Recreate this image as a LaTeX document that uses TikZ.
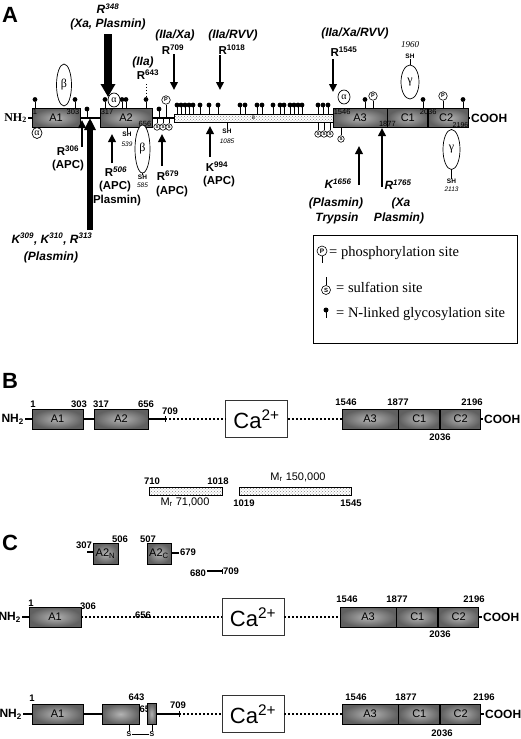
\documentclass[tikz,border=0pt]{standalone}
\usepackage{fontspec}
\setmainfont{Liberation Sans}
\newfontfamily\timesfont{Liberation Serif}
\usetikzlibrary{positioning,patterns,arrows.meta,shapes.geometric}
\definecolor{domIn}{RGB}{180,180,180}
\definecolor{domOut}{RGB}{96,96,96}
\definecolor{hatchGray}{RGB}{130,130,130}
\tikzset{
  dombox/.style={draw=black, line width=0.8pt, inner color=domIn, outer color=domOut,
    minimum height=20pt, inner sep=0pt, font=\fontsize{11}{12}\selectfont},
  hatchbox/.style={draw=black, line width=0.8pt, preaction={fill=white},
    pattern=crosshatch dots, pattern color=hatchGray, minimum height=8pt, inner sep=0pt},
  cabox/.style={draw=black!80, line width=0.8pt, fill=white, minimum width=62pt,
    minimum height=37pt, inner sep=0pt, font=\fontsize{22}{24}\selectfont},
  linker/.style={line width=1.5pt},
  dotlink/.style={line width=1.7pt, dash pattern=on 2pt off 2pt},
  sitestem/.style={line width=0.7pt},
  panellbl/.style={anchor=west, inner sep=0pt, font=\fontsize{22}{24}\selectfont\bfseries},
  endlbl/.style={anchor=west, inner sep=1pt, font=\fontsize{12}{13}\selectfont\bfseries},
  nhlbl/.style={anchor=east, inner sep=1pt, font=\fontsize{12}{13}\selectfont\bfseries},
  innum/.style={inner sep=1pt, font=\fontsize{7.5}{8}\selectfont},
  resnum/.style={inner sep=1pt, font=\fontsize{9.5}{10}\selectfont\bfseries},
  cutital/.style={inner sep=0pt, font=\fontsize{12}{13}\selectfont\bfseries\itshape},
  cutbold/.style={inner sep=0pt, font=\fontsize{11.5}{12}\selectfont\bfseries},
  cleave/.style={line width=2.6pt, -{Triangle[width=7.5pt,length=8pt]}},
  midcleave/.style={line width=5.5pt, -{Triangle[width=11pt,length=12pt]}},
  bigcleave/.style={line width=8pt, -{Triangle[width=14pt,length=13pt]}},
  loopell/.style={ellipse, draw, line width=0.7pt, fill=white, inner sep=0pt,
    font=\timesfont\fontsize{12}{12}\selectfont},
  psite/.style={circle, draw, line width=0.6pt, fill=white, inner sep=0pt,
    minimum size=8.5pt, font=\fontsize{5.5}{6}\selectfont\bfseries},
  ssite/.style={circle, draw, line width=0.6pt, fill=white, inner sep=0pt,
    minimum size=6.5pt, font=\fontsize{4.5}{5}\selectfont\bfseries},
  shlbl/.style={inner sep=0pt, font=\fontsize{6.5}{7}\selectfont\bfseries},
  shnum/.style={inner sep=0pt, font=\fontsize{6.5}{7}\selectfont\itshape},
  legtxt/.style={anchor=west, inner sep=0pt, font=\timesfont\fontsize{14.5}{15}\selectfont},
  mrlbl/.style={inner sep=0pt, font=\fontsize{11}{12}\selectfont}
}
\begin{document}
\begin{tikzpicture}[x=1pt, y=-1pt]
% pixel grid: x right, y down, 520 x 739
\path[use as bounding box, fill=white] (0,0) rectangle (520,739);
\def\glyc#1#2{\draw[sitestem] (#1,#2) -- ++(0,-7); \fill (#1,#2) ++(0,-9) circle[radius=2.4pt];}

% ================= A =================
\node[panellbl] (pA) at (2,15) {A};
\node[nhlbl, font=\timesfont\fontsize{12}{13}\selectfont\bfseries] (nhA) at (28,118) {NH\textsubscript{2}};
\node[dombox, minimum width=48pt, minimum height=19pt] (a1) at (56,118) {A1};
\node[dombox, minimum width=52pt, minimum height=19pt] (a2) at (126,118) {A2};
\node[hatchbox, minimum width=159pt] (bd) at (253.5,118) {\fontsize{5}{5}\selectfont B};
\node[dombox, minimum width=54pt, minimum height=19pt] (a3) at (360,118) {A3};
\node[dombox, minimum width=40pt, minimum height=19pt, right=0pt of a3] (c1) {C1};
\node[dombox, minimum width=40pt, minimum height=19pt, right=0pt of c1] (c2) {C2\hspace*{5pt}};
\node[endlbl] (coA) at (470,118) {COOH};
\draw[linker] (nhA) -- (a1);
\draw[linker] (a1) -- (a2);
\draw[linker] (a2) -- (bd);
\draw[linker] (c2) -- (coA);
% residue numbers inside the domains
\node[innum, anchor=north west] (i1) at (a1.north west) {1};
\node[innum, anchor=north east] (i303) at (a1.north east) {303};
\node[innum, anchor=north west] (i317) at (a2.north west) {317};
\node[innum, anchor=south east] (i656) at (a2.south east) {656};
\node[innum, anchor=north west] (i1546) at (a3.north west) {1546};
\node[innum, anchor=south] (i1877) at (a3.south east) {1877};
\node[innum, anchor=north] (i2036) at (c1.north east) {2036};
\node[innum, anchor=south east, inner sep=0.5pt, font=\fontsize{7}{7}\selectfont] (i2196) at (c2.south east) {2196};

% glycosylation sites
\foreach \gx in {35,75,105,122,126,146,365,423,463} \glyc{\gx}{108.5};
\foreach \gx in {87,159} \glyc{\gx}{118};
\foreach \gx in {177,181,185,189,193,200,209,218,240,245,257,262,273,280,284,290,294,298,302,318,323,328}
  \glyc{\gx}{114};

% disulfide loops
\node[loopell, minimum width=15pt, minimum height=42pt] (be1) at (64,85) {β};
\node[loopell, minimum width=10pt, minimum height=11pt, font=\timesfont\fontsize{10}{10}\selectfont] (al1) at (37,133) {α};
\node[loopell, minimum width=12pt, minimum height=14pt, font=\timesfont\fontsize{10}{10}\selectfont] (al2) at (114,100) {α};
\node[loopell, minimum width=15pt, minimum height=48pt] (be2) at (142.5,149) {β};
\node[loopell, minimum width=12pt, minimum height=14pt, font=\timesfont\fontsize{10}{10}\selectfont] (al3) at (344,97) {α};
\node[loopell, minimum width=18pt, minimum height=34pt] (ga1) at (410,82) {γ};
\node[loopell, minimum width=17pt, minimum height=40pt] (ga2) at (451.5,149.5) {γ};

% free SH groups
\node[shlbl] (sh539) at (127,134) {SH};
\node[shnum] (n539) at (127,144) {539};
\draw[sitestem] (a2.south -| sh539) -- (sh539.north);
\node[shlbl] (sh585) at (142.5,177) {SH};
\node[shnum] (n585) at (142.5,185) {585};
\draw[sitestem] (be2.south) -- (sh585.north);
\node[shlbl] (sh1085) at (227,131) {SH};
\node[shnum] (n1085) at (227,141) {1085};
\draw[sitestem] (bd.south -| sh1085) -- (sh1085.north);
\node[shlbl] (sh1960) at (410,56) {SH};
\node[inner sep=0pt, font=\timesfont\itshape\fontsize{9}{9}\selectfont] (n1960) at (410,45) {1960};
\draw[sitestem] (sh1960.south) -- (ga1.north);
\node[shlbl] (sh2113) at (451.5,181) {SH};
\node[shnum] (n2113) at (451.5,189) {2113};
\draw[sitestem] (ga2.south) -- (sh2113.north);

% phosphorylation sites
\node[psite] (pA1) at (166,100) {P};
\draw[sitestem] (pA1.south) -- (pA1.south |- a2.center);
\node[psite] (pA2) at (373,96) {P};
\draw[sitestem] (pA2.south) -- (pA2.south |- a3.north);
\node[psite] (pA3) at (443,96) {P};
\draw[sitestem] (pA3.south) -- (pA3.south |- c2.north);

% sulfation sites
\foreach \i/\sx in {1/157,2/163,3/169} {
  \node[ssite] (sA\i) at (\sx,127) {S};
  \draw[sitestem] (sA\i.north) -- (sA\i.north |- a2.center);
}
\foreach \i/\sx in {4/318,5/324,6/330} {
  \node[ssite] (sA\i) at (\sx,134) {S};
  \draw[sitestem] (sA\i.north) -- (sA\i.north |- bd.south);
}
\node[ssite] (sA7) at (341,139) {S};
\draw[sitestem] (sA7.north) -- (sA7.north |- a3.south);

% cleavage sites, from above
\node[cutital] (l348) at (108,9) {R\textsuperscript{348}};
\node[cutital] (l348b) at (108,24) {(Xa, Plasmin)};
\node[cutital] (l643a) at (143,62) {(IIa)};
\node[cutbold] (l643) at (148,75) {R\textsuperscript{643}};
\node[cutital] (l709a) at (175,35) {(IIa/Xa)};
\node[cutbold] (l709) at (173,50) {R\textsuperscript{709}};
\node[cutital] (l1018a) at (233,35) {(IIa/RVV)};
\node[cutbold] (l1018) at (232,50) {R\textsuperscript{1018}};
\node[cutital] (l1545a) at (355,33) {(IIa/Xa/RVV)};
\node[cutbold] (l1545) at (344,52) {R\textsuperscript{1545}};
\coordinate (t348) at (108,34); \coordinate (h348) at (108,97);
\draw[bigcleave] (t348) -- (h348);
\coordinate (t643) at (146,84); \coordinate (h643) at (146,97);
\draw[dotted, line width=0.9pt] (t643) -- (h643);
\foreach \nm/\cx/\ya/\yb in {709/174/54/90, 1018/220/55/90, 1545/333/59/92} {
  \coordinate (t\nm) at (\cx,\ya); \coordinate (h\nm) at (\cx,\yb);
  \draw[cleave] (t\nm) -- (h\nm);
}

% cleavage sites, from below
\node[cutbold] (l306) at (68,151) {R\textsuperscript{306}};
\node[cutbold] (l306b) at (68,166) {(APC)};
\node[cutital] (l309) at (52,239) {K\textsuperscript{309}, K\textsuperscript{310}, R\textsuperscript{313}};
\node[cutital] (l309b) at (51,257) {(Plasmin)};
\node[cutbold] (l506) at (116,172) {R\textsuperscript{\itshape 506}};
\node[cutbold] (l506b) at (115,187) {(APC)};
\node[cutbold] (l506c) at (117,201) {Plasmin)};
\node[cutbold] (l679) at (168,176) {R\textsuperscript{679}};
\node[cutbold] (l679b) at (172,192) {(APC)};
\node[cutbold] (l994) at (217,167) {K\textsuperscript{994}};
\node[cutbold] (l994b) at (219,182) {(APC)};
\node[cutital] (l1656) at (338,184) {K\textsuperscript{1656}};
\node[cutital] (l1656b) at (336,203) {(Plasmin)};
\node[cutital] (l1656c) at (337,218) {Trypsin};
\node[cutital] (l1765) at (398,185) {R\textsuperscript{1765}};
\node[cutital] (l1765b) at (401,203) {(Xa};
\node[cutital] (l1765c) at (399,218) {Plasmin)};
\coordinate (t309) at (90,230); \coordinate (h309) at (90,118);
\draw[midcleave] (t309) -- (h309);
\foreach \nm/\cx/\ya/\yb in {306/82/147/120, 506/112/163/134, 679/162/166/134,
  994/210/157/126, 1656/359/185/146, 1765/382/187/128} {
  \coordinate (t\nm) at (\cx,\ya); \coordinate (h\nm) at (\cx,\yb);
  \draw[cleave] (t\nm) -- (h\nm);
}

% legend
\node[draw, line width=0.8pt, minimum width=204pt, minimum height=108pt, anchor=north west] (leg) at (313,235) {};
\node[psite, minimum size=10pt, font=\fontsize{6.5}{7}\selectfont\bfseries] (lgP) at (322,251) {P};
\draw[sitestem] (lgP.south) -- ++(0,7);
\node[legtxt] (lgPt) at (329,253) {= phosphorylation site};
\node[ssite, minimum size=9pt, font=\fontsize{6}{6}\selectfont\bfseries] (lgS) at (326,290) {S};
\draw[sitestem] (lgS.north) -- ++(0,-8);
\node[legtxt] (lgSt) at (336,287) {= sulfation site};
\fill (326,310) circle[radius=2.5pt];
\draw[sitestem] (326,310) -- (326,318);
\node[legtxt] (lgGt) at (336,314) {= N-linked glycosylation site};

% ================= B =================
\node[panellbl] (pB) at (2,381) {B};
\node[nhlbl] (nhB) at (25,419) {NH\textsubscript{2}};
\node[dombox, minimum width=51pt] (b1) at (57.5,419) {A1};
\node[dombox, minimum width=54pt] (b2) at (121,419) {A2};
\coordinate (b709) at (165,419);
\node[cabox] (caB) at (256.5,419) {Ca\textsuperscript{2+}};
\node[dombox, minimum width=56pt] (b3) at (370,419) {A3};
\node[dombox, minimum width=41pt, right=0pt of b3] (b4) {C1};
\node[dombox, minimum width=40pt, right=0pt of b4] (b5) {C2};
\node[endlbl] (coB) at (483,419) {COOH};
\draw[linker] (nhB) -- (b1);
\draw[linker] (b1) -- (b2);
\draw[linker] (b2) -- (b709);
\draw[line width=1pt] ([yshift=3pt]b709) -- ([yshift=-3pt]b709);
\draw[dotlink] (b709) -- (caB);
\draw[dotlink] (caB) -- (b3);
\draw[linker] (b5) -- (coB);
\node[resnum] (nb1) at (33,404.5) {1};
\node[resnum] (nb303) at (79,404.5) {303};
\node[resnum] (nb317) at (101,404.5) {317};
\node[resnum] (nb656) at (146,404.5) {656};
\node[resnum] (nb709) at (170,411) {709};
\node[resnum] (nb1546) at (346,402) {1546};
\node[resnum] (nb1877) at (398,402) {1877};
\node[resnum] (nb2196) at (472,402) {2196};
\node[resnum] (nb2036) at (440,437) {2036};

% B domain fragments
\node[hatchbox, minimum width=73pt] (f1) at (185.5,491) {};
\node[hatchbox, minimum width=112pt] (f2) at (295,491) {};
\node[resnum] (nf710) at (152,481) {710};
\node[resnum] (nf1018) at (218,481) {1018};
\node[resnum] (nf1019) at (244,503) {1019};
\node[resnum] (nf1545) at (351,503) {1545};
\node[mrlbl] (mr71) at (185,502) {M\textsubscript{r} 71,000};
\node[mrlbl] (mr150) at (298,477) {M\textsubscript{r} 150,000};

% ================= C =================
\node[panellbl] (pC) at (2,543) {C};
\node[dombox, minimum width=25pt, minimum height=21pt] (cn) at (105.5,553.5) {A2\textsubscript{N}};
\node[dombox, minimum width=24pt, minimum height=21pt] (cc) at (159,553.5) {A2\textsubscript{C}};
\coordinate (c307) at (87,552);
\draw[linker] (c307) -- (cn.west |- c307);
\coordinate (c679) at (179,553);
\draw[linker] (cc.east |- c679) -- (c679);
\node[resnum] (nc307) at (84,545.5) {307};
\node[resnum] (nc506) at (120,539.5) {506};
\node[resnum] (nc507) at (148,539) {507};
\node[resnum] (nc679) at (188,552) {679};
\node[resnum] (nc680) at (198,573) {680};
\coordinate (c709) at (222,571);
\draw[linker] (nc680.east |- c709) -- (c709);
\draw[line width=1pt] ([yshift=2.5pt]c709) -- ([yshift=-2.5pt]c709);
\node[resnum] (nc709) at (231,571) {709};

% heavy chain lost, light chain kept
\node[nhlbl] (nhC1) at (22,617) {NH\textsubscript{2}};
\node[dombox, minimum width=52pt] (d1) at (55,617) {A1};
\node[cabox] (caC1) at (253,617) {Ca\textsuperscript{2+}};
\node[dombox, minimum width=56pt] (d3) at (368,617) {A3};
\node[dombox, minimum width=41pt, right=0pt of d3] (d4) {C1};
\node[dombox, minimum width=40pt, right=0pt of d4] (d5) {C2};
\node[endlbl] (coC1) at (482,617) {COOH};
\draw[linker] (nhC1) -- (d1);
\draw[dotlink] (d1) -- (caC1);
\draw[dotlink] (caC1) -- (d3);
\draw[linker] (d5) -- (coC1);
\node[resnum] (nd1) at (31,603) {1};
\node[resnum] (nd306) at (88,606) {306};
\node[resnum] (nd656) at (143,615) {656};
\node[resnum] (nd1546) at (347,599) {1546};
\node[resnum] (nd1877) at (397,599) {1877};
\node[resnum] (nd2196) at (474,599) {2196};
\node[resnum] (nd2036) at (440,634) {2036};

% A2 cut at 643, held by S--S
\node[nhlbl] (nhC2) at (23,714) {NH\textsubscript{2}};
\node[dombox, minimum width=51pt] (e1) at (57.5,714) {A1};
\node[dombox, minimum width=37pt] (e2) at (120.5,714) {};
\node[resnum, anchor=west] (ne655) at (138.5,709) {655};
\node[dombox, minimum width=9pt, minimum height=21pt] (e3) at (151.5,714) {};
\coordinate (e709) at (179,714);
\node[cabox] (caC2) at (253,714) {Ca\textsuperscript{2+}};
\node[dombox, minimum width=56pt] (e4) at (370,714) {A3};
\node[dombox, minimum width=41pt, right=0pt of e4] (e5) {C1};
\node[dombox, minimum width=40pt, right=0pt of e5] (e6) {C2};
\node[endlbl] (coC2) at (484,714) {COOH};
\draw[linker] (nhC2) -- (e1);
\draw[linker] (e1) -- (e2);
\draw[linker] (e3) -- (e709);
\draw[line width=1pt] ([yshift=3pt]e709) -- ([yshift=-3pt]e709);
\draw[dotlink] (e709) -- (caC2);
\draw[dotlink] (caC2) -- (e4);
\draw[linker] (e6) -- (coC2);
\node[resnum] (ne1) at (32,698) {1};
\node[resnum] (ne643) at (136.5,697.5) {643};
\node[resnum] (ne709) at (178,705) {709};
\node[resnum] (ne1546) at (356,697.5) {1546};
\node[resnum] (ne1877) at (406,697.5) {1877};
\node[resnum] (ne2196) at (484,697.5) {2196};
\node[resnum] (ne2036) at (442,733.5) {2036};
\node[inner sep=0.5pt, font=\fontsize{7}{7}\selectfont\bfseries] (ss1) at (129,734) {S};
\node[inner sep=0.5pt, font=\fontsize{7}{7}\selectfont\bfseries] (ss2) at (152,734) {S};
\draw[sitestem] (ss1) -- (ss2);
\draw[sitestem] (e2.south -| ss1) -- (ss1.north);
\draw[sitestem] (e3.south -| ss2) -- (ss2.north);
\end{tikzpicture}
\end{document}
